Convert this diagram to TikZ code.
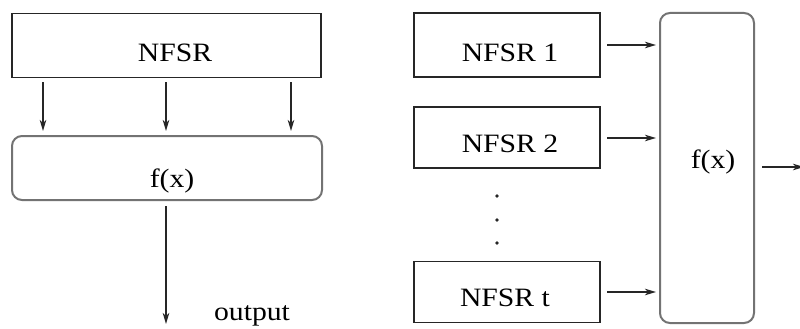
\documentclass[tikz,border=0pt]{standalone}
\usepackage{fontspec}
\setmainfont[FakeStretch=1.12]{Liberation Serif}
\usetikzlibrary{arrows.meta}
\begin{document}
\begin{tikzpicture}[x=1pt,y=-1pt,
  reg/.style={draw=black!85,line width=1.8pt,inner sep=0pt},
  func/.style={draw=black!55,line width=2pt,rounded corners=10pt,inner sep=0pt},
  lbl/.style={font=\fontsize{26.5}{30}\selectfont,text=black,inner sep=0pt,anchor=base},
  flow/.style={draw=black!85,line width=1.4pt,-{Stealth[length=11pt,width=6.5pt,inset=3pt]}}]
\useasboundingbox (0,0) rectangle (800,329);

% single register feeding a filter function
\node[reg,minimum width=309pt,minimum height=64pt] (nfsr) at (166.5,45.5) {};
\node[lbl] (nfsrt) at (175,62) {NFSR};
\node[func,minimum width=310pt,minimum height=64pt] (fl) at (167,168) {};
\node[lbl] (flt) at (172,187) {f(x)};
\foreach \x/\n in {43/a,166/b,291/c}{
  \coordinate (s\n) at (\x,82);
  \coordinate (e\n) at (\x,131);
  \draw[flow] (s\n) -- (e\n);
}
\coordinate (ls) at (166,206);
\coordinate (le) at (166,324);
\draw[flow] (ls) -- (le);
\node[lbl] (out) at (252,320) {output};

% several registers combined by one function
\node[reg,minimum width=186pt,minimum height=64pt] (r1) at (507,45) {};
\node[lbl] (r1t) at (510,62) {NFSR 1};
\node[reg,minimum width=186pt,minimum height=61pt] (r2) at (507,137.5) {};
\node[lbl] (r2t) at (510,152) {NFSR 2};
\node[reg,minimum width=186pt,minimum height=61pt] (rt) at (507,292) {};
\node[lbl] (rtt) at (505,306) {NFSR t};
\foreach \y/\n in {196/p,220/q,243/r}
  \fill[black!85] (497,\y) circle (1.9pt) coordinate (d\n);
\node[func,minimum width=94pt,minimum height=310pt] (fr) at (707,168) {};
\node[lbl] (frt) at (713,168) {f(x)};
\foreach \y/\n in {45/1,138/2,292/t}{
  \coordinate (a\n) at (607,\y);
  \coordinate (b\n) at (656,\y);
  \draw[flow] (a\n) -- (b\n);
}
\coordinate (os) at (762,167);
\coordinate (oe) at (804,167);
\draw[flow] (os) -- (oe);
\end{tikzpicture}
\end{document}
